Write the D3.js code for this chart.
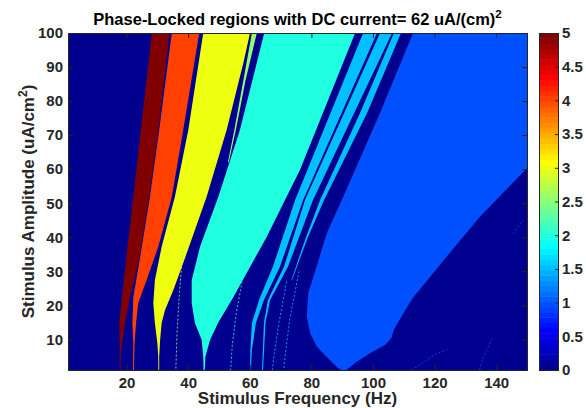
<!DOCTYPE html>
<html>
<head>
<meta charset="utf-8">
<script src="https://cdn.jsdelivr.net/npm/d3@7"></script>
<style>
  body { margin: 0; background: #fff; }
  svg { display: block; font-family: "Liberation Sans", Arial, sans-serif; font-weight: bold; }
</style>
</head>
<body>
<div class="svg-container"></div>
<script>
'use strict';

// axes
var freqRange = [1, 150];
var ampRange = [1, 100];
var levelRange = [0, 5];
var freqTicks = [20, 40, 60, 80, 100, 120, 140];
var ampTicks = [10, 20, 30, 40, 50, 60, 70, 80, 90, 100];
var levelTicks = [0, 0.5, 1, 1.5, 2, 2.5, 3, 3.5, 4, 4.5, 5];

// phase-locked regions, points are [frequency (Hz), amplitude (uA/cm^2)]
var lock5 = [[28.2,100],[25.2,76],[22.2,51.9],[20.3,37],[18.8,24.5],[17.65,14.8],[17.8,6.9],[17.85,1],
             [18.1,1],[18.2,6.9],[19.5,14.8],[21.1,22.4],[23.8,32.4],[27.3,51.9],[30.3,71.5],[33.9,100]];
var lock4 = [[34.7,100],[30.6,71.5],[27.6,51.9],[24.1,32.4],[22.2,22.4],[21.9,14.8],[22.2,8.9],[22.15,4],[22.1,1],
             [22.4,1],[22.5,4],[22.6,8.9],[23.1,14.8],[23.8,20.7],[26.5,27.4],[30.3,37.2],[34.7,51.9],[38.4,71.5],[43.6,100]];
var lock3 = [[44.9,100],[40.05,71.5],[35.7,51.9],[31.4,37.2],[29.2,27.4],[28.7,20.7],[29.2,14.8],[30.0,8.9],[30.3,4.9],[30.35,1],
             [30.6,1],[30.6,4.9],[30.9,9.8],[31.4,14.8],[32.5,18.6],[35.2,24.5],[38.4,32.4],[42.2,42.1],[46.0,51.9],[52.5,71.5],[57.9,91.1],[60.1,100]];
var lock25 = [[60.7,100],[62.3,100],[58.6,86],[55.6,72],[53.2,62],[52.9,62],[55.1,72],[57.9,86]];
var lock2 = [[64.7,100],[60.7,85.5],[56.8,71.5],[49.8,51.9],[43.85,37.2],[41.15,27.4],[41.15,20.7],[42.2,14.8],[44.4,9.8],[44.9,4.9],[45.0,1],
             [45.4,1],[45.6,4.9],[47.1,9.8],[49.7,14.8],[54.65,22.4],[65.5,40.1],[71.4,50.9],[76.3,59.75],[94.2,100]];
var lock15a = [[96.8,100],[74.7,50.9],[67.5,31.3],[63.0,21.6],[60.7,14.8],[60.2,6.9],[60.1,1],
               [60.35,1],[60.7,6.9],[62.0,14.8],[64.6,21.6],[69.8,31.3],[77.3,50.9],[101.3,100]];
var lock15b = [[102.3,100],[77.9,50.9],[71.1,31.3],[65.9,21.6],[64.6,14.8],[64.0,1],
               [64.3,1],[65.1,14.8],[66.6,21.6],[72.4,31.3],[80.5,50.9],[106.2,100]];
var lock15c = [[106.8,100],[109.1,100],[98.1,76.5],[84.1,50.9],[78.9,40.1],[73.7,27.4],
               [73.5,27.4],[78.3,40.1],[82.8,50.9],[95.8,76.5]];
var lock1 = [[113.0,100],[102.3,76.5],[89.85,50.9],[85.0,41.2],[81.7,31.3],[79.0,23.6],[78.5,16.7],[79.6,11.8],[81.8,7.8],
             [86.05,3.9],[88.6,1.6],[89.8,1],[91.3,1],[94.5,3.3],[99.0,5.9],[104.0,8.4],[106.0,10.5],[106.8,12.9],
             [110.5,18.6],[113.1,22.4],[123.9,34.3],[134.7,46.0],[150,60.3],[150,100]];

// thin scattered locking traces
var trace25 = [[38.4,37.2],[37.2,24],[36.4,12],[36.0,1]];
var trace2 = [[57.5,27],[55.5,17],[54.3,8],[53.8,1]];
var trace15a = [[72,27],[69.5,15],[68,6],[67.3,1]];
var trace15b = [[76,30],[73,16],[71.6,6],[71.0,1]];
var trace1a = [[112.5,1],[116,3],[120,5.5],[124,7]];
var trace1b = [[134.6,1],[135.5,4],[137,7],[138.5,10]];
var trace1c = [[145.5,41],[147,43],[148.8,45]];

var regions = [
  {level: 1, pts: lock1}, {level: 1.5, pts: lock15a}, {level: 1.5, pts: lock15b}, {level: 1.5, pts: lock15c},
  {level: 2, pts: lock2}, {level: 2.5, pts: lock25}, {level: 3, pts: lock3}, {level: 4, pts: lock4}, {level: 5, pts: lock5}
];
var traces = [
  {level: 2.5, pts: trace25}, {level: 2, pts: trace2}, {level: 1.5, pts: trace15a}, {level: 1.5, pts: trace15b},
  {level: 1, pts: trace1a}, {level: 1, pts: trace1b}, {level: 1, pts: trace1c}
];

// matlab jet colormap
function jet(m) {
  var n = Math.ceil(m / 4), u = [], out = [], k;
  for (k = 1; k <= n; k++) u.push(k / n);
  for (k = 1; k < n; k++) u.push(1);
  for (k = n; k >= 1; k--) u.push(k / n);
  var g0 = Math.ceil(n / 2) - (m % 4 === 1 ? 1 : 0);
  function val(i) { return (i >= 1 && i <= u.length) ? u[i - 1] : 0; }
  for (var i = 1; i <= m; i++) {
    out.push(d3.rgb(255 * val(i - g0 - n), 255 * val(i - g0), 255 * val(i - g0 + n)).formatHex());
  }
  return out;
}

(function () {
  var width = 586, height = 408;
  var plot = {left: 68, top: 33, right: 527, bottom: 370};
  var cbar = {left: 539, right: 558};
  var ink = '#262626';

  var x = d3.scaleLinear().domain(freqRange).range([plot.left, plot.right]);
  var y = d3.scaleLinear().domain(ampRange).range([plot.bottom, plot.top]);
  var cy = d3.scaleLinear().domain(levelRange).range([plot.bottom, plot.top]);
  var cmap = jet(64);
  var color = d3.scaleQuantize().domain(levelRange).range(cmap);

  var svg = d3.select('.svg-container')
    .append('svg')
      .attr('width', width)
      .attr('height', height);

  svg.append('defs').append('clipPath')
      .attr('id', 'plotClip')
    .append('rect')
      .attr('x', plot.left).attr('y', plot.top)
      .attr('width', plot.right - plot.left).attr('height', plot.bottom - plot.top);

  var g = svg.append('g').attr('clip-path', 'url(#plotClip)');

  g.append('rect')
      .attr('x', x(freqRange[0])).attr('y', y(ampRange[1]))
      .attr('width', x(freqRange[1]) - x(freqRange[0]))
      .attr('height', y(ampRange[0]) - y(ampRange[1]))
      .attr('fill', color(0));

  var line = d3.line()
      .x(function(d) { return x(d[0]); })
      .y(function(d) { return y(d[1]); });

  g.selectAll('.region')
      .data(regions)
    .enter().append('path')
      .attr('class', 'region')
      .attr('d', function(d) { return line(d.pts) + 'Z'; })
      .attr('fill', function(d) { return color(d.level); });

  g.selectAll('.trace')
      .data(traces)
    .enter().append('path')
      .attr('class', 'trace')
      .attr('d', function(d) { return line(d.pts); })
      .attr('fill', 'none')
      .attr('stroke', function(d) { return color(d.level); })
      .attr('stroke-width', 1)
      .attr('stroke-dasharray', '2 2')
      .attr('opacity', 0.8);

  function styleAxis(sel, size) {
    sel.select('.domain').remove();
    sel.attr('font-family', null).attr('font-size', null);
    sel.selectAll('line').attr('stroke', ink);
    sel.selectAll('text').attr('fill', ink).style('font-size', size + 'px');
  }

  svg.append('g')
      .attr('transform', 'translate(0,' + plot.bottom + ')')
      .call(d3.axisBottom(x).tickValues(freqTicks).tickSize(-5).tickPadding(7))
      .call(styleAxis, 15);
  svg.append('g')
      .attr('transform', 'translate(0,' + plot.top + ')')
      .call(d3.axisTop(x).tickValues(freqTicks).tickSize(-5).tickFormat(''))
      .call(styleAxis, 15);
  svg.append('g')
      .attr('transform', 'translate(' + plot.left + ',0)')
      .call(d3.axisLeft(y).tickValues(ampTicks).tickSize(-5).tickPadding(5))
      .call(styleAxis, 15);
  svg.append('g')
      .attr('transform', 'translate(' + plot.right + ',0)')
      .call(d3.axisRight(y).tickValues(ampTicks).tickSize(-5).tickFormat(''))
      .call(styleAxis, 15);

  svg.append('rect')
      .attr('x', plot.left).attr('y', plot.top)
      .attr('width', plot.right - plot.left).attr('height', plot.bottom - plot.top)
      .attr('fill', 'none')
      .attr('stroke', ink)
      .attr('shape-rendering', 'crispEdges');

  // colorbar
  var step = (levelRange[1] - levelRange[0]) / cmap.length;
  svg.selectAll('.cb')
      .data(cmap)
    .enter().append('rect')
      .attr('class', 'cb')
      .attr('x', cbar.left)
      .attr('width', cbar.right - cbar.left)
      .attr('y', function(d, i) { return cy((i + 1) * step); })
      .attr('height', function(d, i) { return cy(i * step) - cy((i + 1) * step) + 0.5; })
      .attr('fill', function(d) { return d; });

  svg.append('g')
      .attr('transform', 'translate(' + cbar.right + ',0)')
      .call(d3.axisRight(cy).tickValues(levelTicks).tickSize(-3).tickPadding(4).tickFormat(String))
      .call(styleAxis, 15);

  svg.append('rect')
      .attr('x', cbar.left).attr('y', plot.top)
      .attr('width', cbar.right - cbar.left).attr('height', plot.bottom - plot.top)
      .attr('fill', 'none')
      .attr('stroke', ink)
      .attr('shape-rendering', 'crispEdges');

  // labels
  var title = svg.append('text')
      .attr('x', (plot.left + plot.right) / 2)
      .attr('y', 25)
      .attr('text-anchor', 'middle')
      .attr('fill', '#000')
      .style('font-size', '16.5px');
  title.append('tspan').text('Phase-Locked regions with DC current= 62 uA/(cm)');
  title.append('tspan').attr('dy', -7).style('font-size', '11.5px').text('2');

  svg.append('text')
      .attr('x', (plot.left + plot.right) / 2)
      .attr('y', 404)
      .attr('text-anchor', 'middle')
      .attr('fill', ink)
      .style('font-size', '17px')
      .text('Stimulus Frequency (Hz)');

  var ylab = svg.append('text')
      .attr('transform', 'translate(34,' + (plot.top + plot.bottom) / 2 + ') rotate(-90)')
      .attr('text-anchor', 'middle')
      .attr('fill', ink)
      .style('font-size', '17px');
  ylab.append('tspan').text('Stimulus Amplitude (uA/cm');
  ylab.append('tspan').attr('dy', -7).style('font-size', '12px').text('2');
  ylab.append('tspan').attr('dy', 7).text(')');
})();
</script>
</body>
</html>
